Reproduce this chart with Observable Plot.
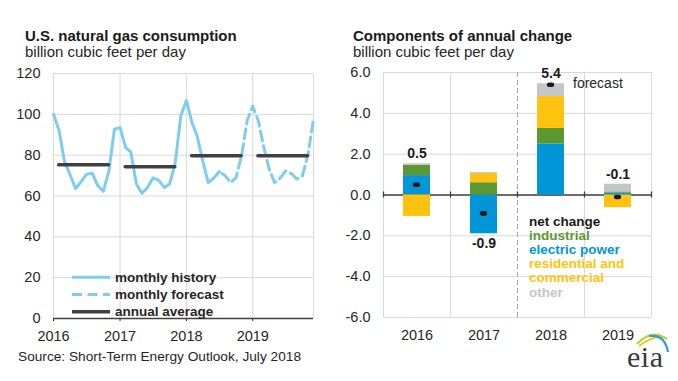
<!DOCTYPE html>
<html><head><meta charset="utf-8">
<script src="https://cdn.jsdelivr.net/npm/d3@7"></script>
<script src="https://cdn.jsdelivr.net/npm/@observablehq/plot@0.6"></script>
<style>
body{margin:0;background:#fff;}
#wrap{position:relative;width:678px;height:381px;overflow:hidden;background:#fff;font-family:"Liberation Sans",Arial,sans-serif;}
#left,#right,#overlay{position:absolute;top:0;}
#left{left:0;} #right{left:340px;} #overlay{left:0;pointer-events:none;}
</style></head><body>
<div id="wrap"><div id="left"></div><div id="right"></div><svg id="overlay" width="678" height="381"></svg></div>
<script>
// ---------- Left chart data: U.S. natural gas consumption (Bcf/d) ----------
const historyStart = [2016, 0];            // Jan 2016
const historyValues = [100, 92, 77, 70.5, 63.7, 67, 70.7, 71.2, 65, 62.3, 72.3, 92.7,
  93.5, 83.7, 81.6, 65.9, 61.3, 64.2, 68.8, 67.8, 64.2, 65.9, 76.4, 99.2,
  106.8, 95.9, 89.4, 77.2, 66.6, 68.8, 72];
const forecastStart = [2018, 6];           // Jul 2018
const forecastValues = [72, 70, 66.6, 69, 80, 97,
  104, 96.7, 84.5, 73.2, 66.6, 68.8, 72.3, 71, 68.3, 69.9, 80.5, 97.6];
const avgYears = [2016, 2017, 2018, 2019];
const avgValues = [75.3, 74.3, 79.7, 79.7];
const leftYTicks = [0, 20, 40, 60, 80, 100, 120];
const leftLegend = ["monthly history", "monthly forecast", "annual average"];

// ---------- Right chart data: components of annual change (Bcf/d) ----------
const years = [2016, 2017, 2018, 2019];
const electricPower = [0.95, -1.9, 2.5, 0.1];
const industrial = [0.5, 0.6, 0.76, 0.05];
const resComm = [-1.05, 0.45, 1.56, -0.62];
const other = [0.08, 0.05, 0.63, 0.38];
const netChange = [0.5, -0.9, 5.4, -0.1];
const firstForecastYear = 2018;
const rightYTicks = [-6, -4, -2, 0, 2, 4, 6];
const componentNames = ["electric power", "industrial", "residential and commercial", "other"];
const componentColors = ["#0096d7", "#5d9732", "#ffc20e", "#c4c6c8"];
const rightLegend = [["net change", "#1a1a1a"], ["industrial", "#5d9732"], ["electric power", "#0096d7"],
  ["residential and", "#ffc20e"], ["commercial", "#ffc20e"], ["other", "#c4c6c8"]];

const FONT = "'Liberation Sans', Arial, sans-serif";
const baseStyle = {fontFamily: FONT, fontSize: "14.5px", color: "#262626", background: "transparent", overflow: "visible"};

// ---------- Left chart ----------
const monthDate = (start, i) => new Date(Date.UTC(start[0], start[1] + i, 1));
const history = historyValues.map((v, i) => ({date: monthDate(historyStart, i), value: v}));
const forecast = forecastValues.map((v, i) => ({date: monthDate(forecastStart, i), value: v}));
const annual = avgYears.map((y, i) => ({x1: new Date(Date.UTC(y, 1, 1)), x2: new Date(Date.UTC(y, 10, 1)), avg: avgValues[i]}));
const yearDates = avgYears.map(y => new Date(Date.UTC(y, 0, 1)));
const xStart = history[0].date, xEnd = forecast[forecast.length - 1].date;

const left = Plot.plot({
  width: 340, height: 381, marginTop: 73, marginBottom: 63, marginLeft: 53, marginRight: 27,
  style: baseStyle,
  x: {type: "utc", domain: [xStart, xEnd], ticks: yearDates, tickFormat: d3.utcFormat("%Y"), tickSize: 3, tickPadding: 9, label: null},
  y: {domain: [0, 120], ticks: leftYTicks, tickSize: 0, tickPadding: 13, label: null},
  marks: [
    Plot.ruleY(leftYTicks, {stroke: "#d9d9d9", strokeWidth: 1}),
    Plot.ruleX([...yearDates, xEnd], {stroke: "#d9d9d9", strokeWidth: 1}),
    Plot.ruleY([0], {stroke: "#404040", strokeWidth: 1.5}),
    Plot.line(history, {x: "date", y: "value", stroke: "#7fcdee", strokeWidth: 3}),
    Plot.line(forecast, {x: "date", y: "value", stroke: "#7fcdee", strokeWidth: 3, strokeDasharray: "10,5", strokeDashoffset: 12}),
    Plot.ruleY(annual, {x1: "x1", x2: "x2", y: "avg", stroke: "#404040", strokeWidth: 3.5, strokeLinecap: "round"})
  ]
});
document.getElementById("left").appendChild(left);

// ---------- Right chart ----------
const compValues = [electricPower, industrial, resComm, other];
const stackRows = componentNames.flatMap((name, c) => years.map((y, i) => ({year: y, component: name, value: compValues[c][i]})));
const netRows = years.map((y, i) => {
  const vals = compValues.map(a => a[i]);
  return {
    year: y, net: netChange[i], label: netChange[i].toFixed(1),
    top: d3.sum(vals.filter(v => v > 0)), bottom: d3.sum(vals.filter(v => v < 0))
  };
});
const boundaries = [...years.map(y => y - 0.5), years[years.length - 1] + 0.5];
const solidBounds = boundaries.filter(b => b !== firstForecastYear - 0.5);

const right = Plot.plot({
  width: 338, height: 381, marginTop: 72, marginBottom: 64, marginLeft: 43, marginRight: 27,
  style: baseStyle,
  x: {domain: [boundaries[0], boundaries[boundaries.length - 1]], ticks: years, tickFormat: d => String(d), tickSize: 0, tickPadding: 12, label: null},
  y: {domain: [-6, 6], ticks: rightYTicks, tickFormat: d => d.toFixed(1), tickSize: 0, tickPadding: 13, label: null},
  color: {domain: componentNames, range: componentColors},
  marks: [
    Plot.ruleY(rightYTicks, {stroke: "#d9d9d9", strokeWidth: 1}),
    Plot.ruleX(solidBounds, {stroke: "#d9d9d9", strokeWidth: 1}),
    Plot.ruleX([firstForecastYear - 0.5], {stroke: "#a6a6a6", strokeWidth: 1, strokeDasharray: "5,3"}),
    Plot.ruleY([0], {stroke: "#404040", strokeWidth: 1.5}),
    Plot.ruleX(boundaries, {y1: d => 0, y2: d => 0, insetTop: -3, insetBottom: -3, stroke: "#404040", strokeWidth: 1.3}),
    Plot.rectY(stackRows, {x1: d => d.year - 0.5, x2: d => d.year + 0.5, y: "value", fill: "component", insetLeft: 20, insetRight: 20}),
    Plot.ruleY(netRows, {x1: "year", x2: "year", y: "net", insetLeft: -1.4, insetRight: -1.4, stroke: "#1a1a1a", strokeWidth: 4.6, strokeLinecap: "round"}),
    Plot.text(netRows.filter(d => d.net >= -0.5), {x: "year", y: "top", text: "label", dy: -10, fontSize: 14, fontWeight: "bold", fill: "#1a1a1a"}),
    Plot.text(netRows.filter(d => d.net < -0.5), {x: "year", y: "bottom", text: "label", dy: 10, fontSize: 14, fontWeight: "bold", fill: "#1a1a1a"})
  ]
});
document.getElementById("right").appendChild(right);

// ---------- Overlay texts: titles, legends, source, logo ----------
const ov = d3.select("#overlay").style("font-family", FONT);
const txt = (x, y, s, size, weight, fill) => ov.append("text").attr("x", x).attr("y", y).attr("font-size", size)
  .attr("font-weight", weight).attr("fill", fill).text(s);
txt(25, 41, "U.S. natural gas consumption", 15, "bold", "#1a1a1a");
txt(25, 57, "billion cubic feet per day", 15, "normal", "#262626");
txt(353, 41, "Components of annual change", 15, "bold", "#1a1a1a");
txt(353, 57, "billion cubic feet per day", 15, "normal", "#262626");
txt(18, 361, "Source: Short-Term Energy Outlook, July 2018", 13.7, "normal", "#262626");
txt(573, 88, "forecast", 14, "normal", "#262626");

// left legend
const legY = [281.5, 298.8, 316];
const legStyles = [{dash: null, color: "#7fcdee"}, {dash: "10,5.5", color: "#7fcdee"}, {dash: null, color: "#404040"}];
leftLegend.forEach((label, i) => {
  ov.append("line").attr("x1", 72).attr("x2", 110).attr("y1", legY[i] - 4.3).attr("y2", legY[i] - 4.3)
    .attr("stroke", legStyles[i].color).attr("stroke-width", i === 2 ? 3.5 : 3)
    .attr("stroke-dasharray", legStyles[i].dash);
  txt(115, legY[i], label, 13.5, "bold", "#262626");
});
// right legend
rightLegend.forEach(([label, color], i) => txt(529, 225.5 + i * 14.2, label, 13.5, "bold", color));

// eia logo
const logo = ov.append("g");
logo.append("path").attr("d", "M637,344 Q652,328 667,339").attr("fill", "none").attr("stroke", "#b9d23a").attr("stroke-width", 2.2);
logo.append("path").attr("d", "M639,346 Q652,336 663,337").attr("fill", "none").attr("stroke", "#f3c300").attr("stroke-width", 1.6);
logo.append("path").attr("d", "M649,336 Q665,334 668,352").attr("fill", "none").attr("stroke", "#2a9fd8").attr("stroke-width", 2.2);
logo.append("text").attr("x", 627).attr("y", 367).attr("font-family", "'Liberation Serif', 'DejaVu Serif', serif")
  .attr("font-size", 30).attr("fill", "#3a3a3a").attr("letter-spacing", 0.5).text("eia");
</script>
</body></html>
